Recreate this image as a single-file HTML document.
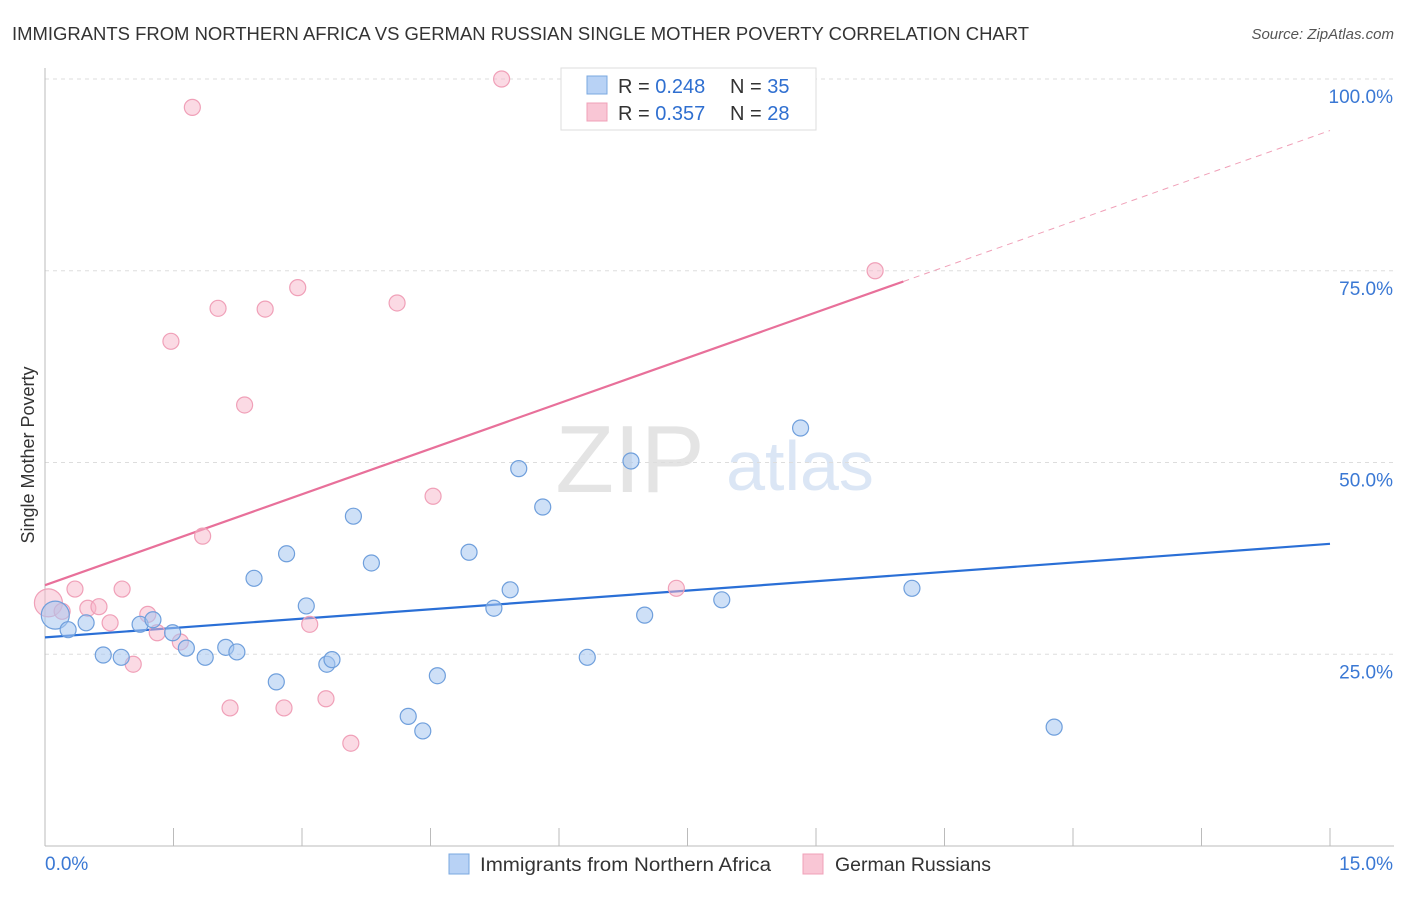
<!DOCTYPE html>
<html><head><meta charset="utf-8"><style>
body{margin:0;background:#fff;font-family:"Liberation Sans",sans-serif;}
svg text{font-family:"Liberation Sans",sans-serif;}
</style></head><body>
<svg id="c" width="1406" height="892" xmlns="http://www.w3.org/2000/svg">
<text x="12" y="40" font-size="18" fill="#333" textLength="1017" lengthAdjust="spacingAndGlyphs">IMMIGRANTS FROM NORTHERN AFRICA VS GERMAN RUSSIAN SINGLE MOTHER POVERTY CORRELATION CHART</text>
<text x="1394" y="39" font-size="15" fill="#555" font-style="italic" text-anchor="end">Source: ZipAtlas.com</text>
<text x="630" y="492" font-size="96" fill="#e4e4e4" font-family="Liberation Serif" text-anchor="middle">ZIP</text>
<text x="800" y="490" font-size="70" fill="#dbe6f5" text-anchor="middle">atlas</text>
<g id="grid"></g><g id="axes"></g><g id="lines"></g><g id="pts"></g>
<text transform="translate(34,455) rotate(-90)" font-size="18" fill="#333" text-anchor="middle">Single Mother Poverty</text>
<g>
<rect x="561" y="68" width="255" height="62" fill="#fff" stroke="#ddd"/>
<rect x="587" y="76" width="20" height="18" fill="#b8d2f5" stroke="#7aa8e0"/>
<rect x="587" y="103" width="20" height="18" fill="#f9c6d5" stroke="#f0a0b8"/>
<text x="618" y="93" font-size="20" fill="#333">R = <tspan fill="#2f6fd0">0.248</tspan></text>
<text x="730" y="93" font-size="20" fill="#333">N = <tspan fill="#2f6fd0">35</tspan></text>
<text x="618" y="120" font-size="20" fill="#333">R = <tspan fill="#2f6fd0">0.357</tspan></text>
<text x="730" y="120" font-size="20" fill="#333">N = <tspan fill="#2f6fd0">28</tspan></text>
</g>
<g>
<rect x="449" y="854" width="20" height="20" fill="#b8d2f5" stroke="#7aa8e0"/>
<text x="480" y="871" font-size="19" fill="#333" textLength="291" lengthAdjust="spacingAndGlyphs">Immigrants from Northern Africa</text>
<rect x="803" y="854" width="20" height="20" fill="#f9c6d5" stroke="#f0a0b8"/>
<text x="835" y="871" font-size="19" fill="#333" textLength="156" lengthAdjust="spacingAndGlyphs">German Russians</text>
</g>
</svg>
<script>
const blueX=[0.12,0.27,0.48,0.68,0.89,1.11,1.26,1.49,1.65,1.87,2.11,2.24,2.44,2.70,2.82,3.05,3.29,3.35,3.60,3.81,4.24,4.41,4.58,4.95,5.24,5.43,5.53,5.81,6.33,6.84,7.00,7.90,8.82,10.12,11.78];
const blueY=[30.1,28.2,29.1,24.9,24.6,28.9,29.5,27.8,25.8,24.6,25.9,25.3,34.9,21.4,38.1,31.3,23.7,24.3,43.0,36.9,16.9,15.0,22.2,38.3,31.0,33.4,49.2,44.2,24.6,50.2,30.1,32.1,54.5,33.6,15.5];
const pinkX=[0.04,0.20,0.35,0.50,0.63,0.76,0.90,1.03,1.20,1.31,1.58,1.47,1.72,1.84,2.02,2.16,2.33,2.57,2.79,2.95,3.09,3.28,3.57,4.11,4.53,5.33,7.37,9.69];
const pinkY=[31.7,30.6,33.5,31.0,31.2,29.1,33.5,23.7,30.2,27.8,26.6,65.8,96.3,40.4,70.1,18.0,57.5,70.0,18.0,72.8,28.9,19.2,13.4,70.8,45.6,100.0,33.6,75.0];
const blueTrend=[27.2,39.4];
const pinkTrend=[34.0,73.6,10.02];
const yTicks=[25,50,75,100];
const yTickLabels=["25.0%","50.0%","75.0%","100.0%"];
const xTicks=[0,1.5,3,4.5,6,7.5,9,10.5,12,13.5,15];
const NS="http://www.w3.org/2000/svg";
const X=v=>45+v/15*1285, Y=v=>846-v/100*767;
function mk(p,t,a){const e=document.createElementNS(NS,t);for(const k in a)e.setAttribute(k,a[k]);document.getElementById(p).appendChild(e);return e;}
yTicks.forEach((t,i)=>{
 const g=mk('grid','line',{x1:45,x2:1394,y1:Y(t),y2:Y(t),stroke:'#ddd','stroke-dasharray':'4,4'});
 
 
 const l=mk('grid','text',{x:1393,y:Y(t)+24,'font-size':19,fill:'#3a78d4','text-anchor':'end'});l.textContent=yTickLabels[i];
 
 
});
const ax=mk('axes','line',{x1:45,x2:1394,y1:846,y2:846,stroke:'#bbb'});


const ay=mk('axes','line',{x1:45,x2:45,y1:68,y2:846,stroke:'#bbb'});


xTicks.forEach(t=>{const e=mk('axes','line',{x1:X(t),x2:X(t),y1:828,y2:846,stroke:'#bbb'});
 
 });
let t0=mk('axes','text',{x:45,y:870,'font-size':19,fill:'#3a78d4'});t0.textContent='0.0%';


let t1=mk('axes','text',{x:1393,y:870,'font-size':19,fill:'#3a78d4','text-anchor':'end'});t1.textContent='15.0%';


function dots(xs,ys,fill,stroke,name){xs.forEach((x,i)=>{const big=i===0;
 const c=mk('pts','circle',{cx:X(x),cy:Y(ys[i]),r:big?14:8,fill:fill,stroke:stroke,'stroke-width':1.2});
 
 });}
dots(pinkX,pinkY,'rgba(248,182,202,0.5)','#f0a0b8','pink-point');
dots(blueX,blueY,'rgba(165,198,240,0.55)','#6f9fdc','blue-point');
const bl=mk('lines','line',{x1:X(0),y1:Y(blueTrend[0]),x2:X(15),y2:Y(blueTrend[1]),stroke:'#2a6fd6','stroke-width':2.2});


const slope=(pinkTrend[1]-pinkTrend[0])/pinkTrend[2];
const pl=mk('lines','line',{x1:X(0),y1:Y(pinkTrend[0]),x2:X(pinkTrend[2]),y2:Y(pinkTrend[1]),stroke:'#e8709a','stroke-width':2.2});


const pd=mk('lines','line',{x1:X(pinkTrend[2]),y1:Y(pinkTrend[1]),x2:X(15),y2:Y(pinkTrend[0]+slope*15),stroke:'#f0a0b8','stroke-width':1,'stroke-dasharray':'6,5'});


</script>
</body></html>
